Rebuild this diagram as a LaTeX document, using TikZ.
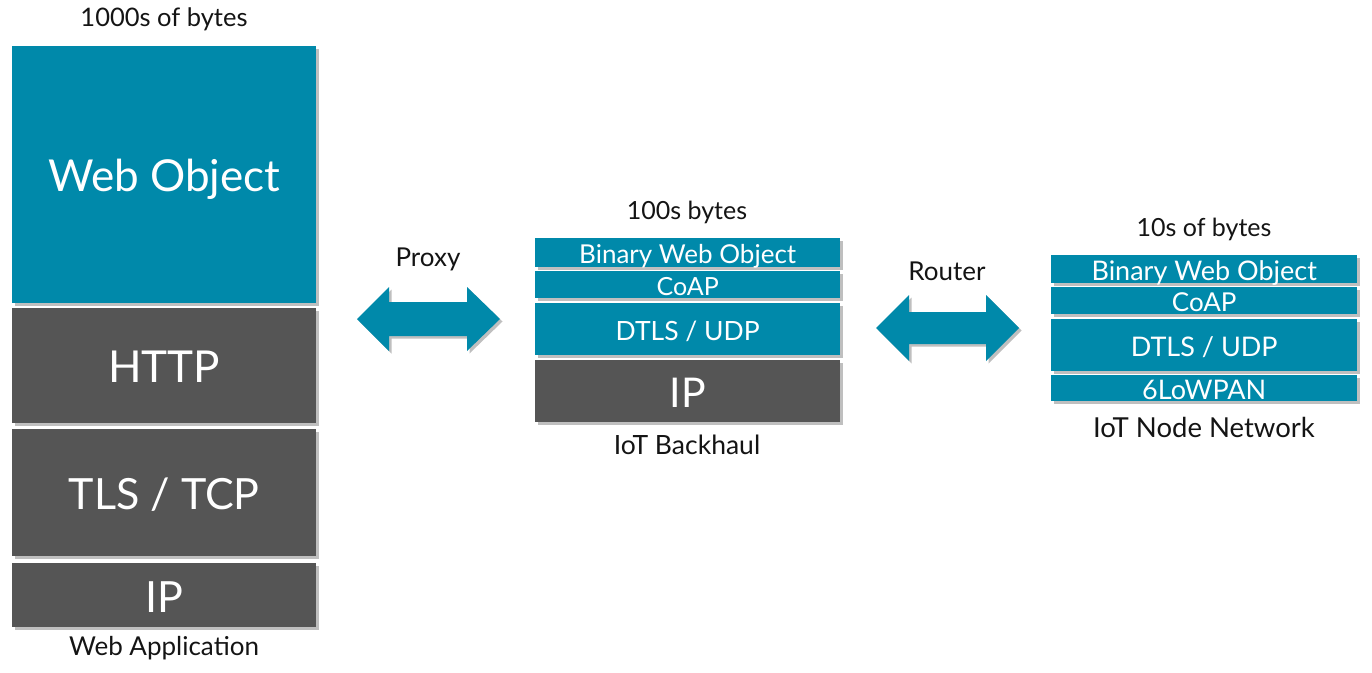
\documentclass[tikz,border=0pt]{standalone}
\usepackage{fontspec}
\setmainfont{Lato}
\usetikzlibrary{shadows}
\definecolor{tealc}{RGB}{0,137,170}
\definecolor{grayc}{RGB}{85,85,85}
\definecolor{txtc}{RGB}{20,20,20}
\newcommand{\capbox}[1]{\raisebox{-1.5pt}[\fontcharht\font`H][0pt]{#1}}
\tikzset{
  layer/.style={rectangle, inner sep=0pt, text=white, anchor=north west,
    drop shadow={shadow xshift=2.5pt, shadow yshift=-2.5pt, opacity=0.25, fill=black}},
  tealbox/.style={layer, fill=tealc},
  graybox/.style={layer, fill=grayc},
  lbl/.style={text=txtc, inner sep=0pt, font=\fontsize{26}{28}\selectfont},
  blockarrow/.style={fill=tealc, drop shadow={shadow xshift=2.5pt, shadow yshift=-2.5pt, opacity=0.25, fill=black}}
}
\begin{document}
\begin{tikzpicture}[x=1pt,y=-1pt]
\useasboundingbox (0,0) rectangle (1372,672);
% left stack
\node[tealbox, minimum width=304pt, minimum height=257pt, font=\fontsize{44}{48}\selectfont] (wo) at (12,46) {\capbox{Web Object}};
\node[graybox, minimum width=304pt, minimum height=115pt, font=\fontsize{44}{48}\selectfont] (http) at (12,308) {\capbox{HTTP}};
\node[graybox, minimum width=304pt, minimum height=127pt, font=\fontsize{43}{46}\selectfont] (tls) at (12,429) {\capbox{TLS / TCP}};
\node[graybox, minimum width=304pt, minimum height=64pt, font=\fontsize{43}{46}\selectfont] (ipl) at (12,563) {\capbox{IP}};
\node[lbl, font=\fontsize{25.5}{28}\selectfont] (bytesl) at (164,19) {1000s of bytes};
\node[lbl] (webapp) at (164,648) {Web Application};
% middle stack
\node[tealbox, minimum width=305pt, minimum height=29pt, font=\fontsize{26}{28}\selectfont] (bwom) at (535,238) {\capbox{Binary Web Object}};
\node[tealbox, minimum width=305pt, minimum height=27pt, font=\fontsize{25}{27}\selectfont] (coapm) at (535,271) {\capbox{CoAP}};
\node[tealbox, minimum width=305pt, minimum height=52pt, font=\fontsize{26.5}{28}\selectfont] (dtlsm) at (535,303) {\capbox{DTLS / UDP}};
\node[graybox, minimum width=305pt, minimum height=62pt, font=\fontsize{41}{44}\selectfont] (ipm) at (535,360) {\capbox{IP}};
\node[lbl, font=\fontsize{25}{27}\selectfont] (bytesm) at (687,212) {100s bytes};
\node[lbl, font=\fontsize{26.5}{28}\selectfont] (backhaul) at (687,445) {IoT Backhaul};
% right stack
\node[tealbox, minimum width=306pt, minimum height=28pt, font=\fontsize{27}{29}\selectfont] (bwor) at (1051,255) {\capbox{Binary Web Object}};
\node[tealbox, minimum width=306pt, minimum height=27pt, font=\fontsize{26}{28}\selectfont] (coapr) at (1051,287) {\capbox{CoAP}};
\node[tealbox, minimum width=306pt, minimum height=52pt, font=\fontsize{27}{29}\selectfont] (dtlsr) at (1051,319) {\capbox{DTLS / UDP}};
\node[tealbox, minimum width=306pt, minimum height=26pt, font=\fontsize{27}{29}\selectfont] (lowpan) at (1051,375) {\capbox{6LoWPAN}};
\node[lbl, font=\fontsize{25}{27}\selectfont] (bytesr) at (1204,229) {10s of bytes};
\node[lbl, font=\fontsize{27.5}{30}\selectfont] (nodenet) at (1204,427) {IoT Node Network};
% proxy arrow
\node[lbl] (proxy) at (428,259) {Proxy};
\fill[blockarrow] (357,319) -- (389,287) -- (389,302) -- (467,302) -- (467,287) -- (500,319)
  -- (467,351) -- (467,336) -- (389,336) -- (389,351) -- cycle;
% router arrow
\node[lbl] (router) at (947,271) {Router};
\fill[blockarrow] (876,328) -- (909,295) -- (909,312) -- (986,312) -- (986,295) -- (1019,328)
  -- (986,361) -- (986,344) -- (909,344) -- (909,361) -- cycle;
\end{tikzpicture}
\end{document}
